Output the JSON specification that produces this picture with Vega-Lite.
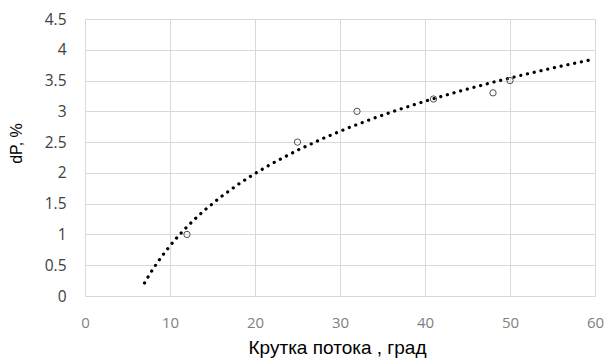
{
  "$schema": "https://vega.github.io/schema/vega-lite/v6.json",
  "width": 510,
  "height": 277,
  "autosize": "none",
  "padding": {"left": 85, "top": 19, "right": 11, "bottom": 65},
  "background": "white",
  "config": {"view": {"stroke": "#d9d9d9", "strokeWidth": 1}},
  "datasets": {
    "obs": [
      {"x": 12, "y": 1.0},
      {"x": 25, "y": 2.5},
      {"x": 32, "y": 3.0},
      {"x": 41, "y": 3.2},
      {"x": 48, "y": 3.3},
      {"x": 50, "y": 3.5}
    ],
    "trend": [
      {"x": 7, "y": 0.212},
      {"x": 7.5, "y": 0.329},
      {"x": 8, "y": 0.439},
      {"x": 9, "y": 0.638},
      {"x": 10, "y": 0.816},
      {"x": 11, "y": 0.978},
      {"x": 12, "y": 1.125},
      {"x": 13, "y": 1.261},
      {"x": 14, "y": 1.386},
      {"x": 16, "y": 1.612},
      {"x": 18, "y": 1.812},
      {"x": 20, "y": 1.990},
      {"x": 22, "y": 2.152},
      {"x": 25, "y": 2.368},
      {"x": 28, "y": 2.560},
      {"x": 31, "y": 2.732},
      {"x": 34, "y": 2.889},
      {"x": 37, "y": 3.032},
      {"x": 40, "y": 3.164},
      {"x": 44, "y": 3.325},
      {"x": 48, "y": 3.473},
      {"x": 52, "y": 3.608},
      {"x": 56, "y": 3.734},
      {"x": 59.5, "y": 3.837}
    ]
  },
  "layer": [
    {
      "data": {"name": "trend"},
      "mark": {"type": "line", "color": "black", "strokeWidth": 3.2, "strokeCap": "round", "strokeDash": [0.1, 6.8]},
      "encoding": {
        "x": {
          "field": "x", "type": "quantitative",
          "scale": {"domain": [0, 60], "nice": false},
          "axis": {
            "values": [0, 10, 20, 30, 40, 50, 60],
            "tickCount": 30,
            "format": "~g",
            "labelFlush": false,
            "title": "Крутка потока , град",
            "titleFont": "Liberation Sans", "titleFontSize": 19, "titleFontWeight": "normal", "titleColor": "#000000",
            "titlePadding": 8, "titleX": 252,
            "labelFont": "Open Sans", "labelFontSize": 15, "labelColor": "#7f7f7f", "labelPadding": 19,
            "domain": false, "ticks": false, "gridColor": "#d9d9d9", "gridWidth": 1
          }
        },
        "y": {
          "field": "y", "type": "quantitative",
          "scale": {"domain": [0, 4.5], "nice": false},
          "axis": {
            "values": [0, 0.5, 1, 1.5, 2, 2.5, 3, 3.5, 4, 4.5],
            "tickCount": 30,
            "format": "~g",
            "labelFlush": false,
            "title": "dP, %",
            "titleFont": "Liberation Sans", "titleFontSize": 16, "titleFontWeight": "normal", "titleColor": "#000000",
            "titleAngle": -90, "titleX": -61, "titleY": 124, "titleAlign": "center", "titleBaseline": "bottom",
            "labelFont": "Open Sans", "labelFontSize": 15.5, "labelColor": "#404040", "labelPadding": 19,
            "domain": false, "ticks": false, "gridColor": "#d9d9d9", "gridWidth": 1
          }
        }
      }
    },
    {
      "data": {"name": "obs"},
      "mark": {"type": "point", "shape": "circle", "filled": false, "stroke": "#505050", "strokeWidth": 1, "size": 40, "opacity": 1},
      "encoding": {
        "x": {"field": "x", "type": "quantitative"},
        "y": {"field": "y", "type": "quantitative"}
      }
    }
  ]
}
